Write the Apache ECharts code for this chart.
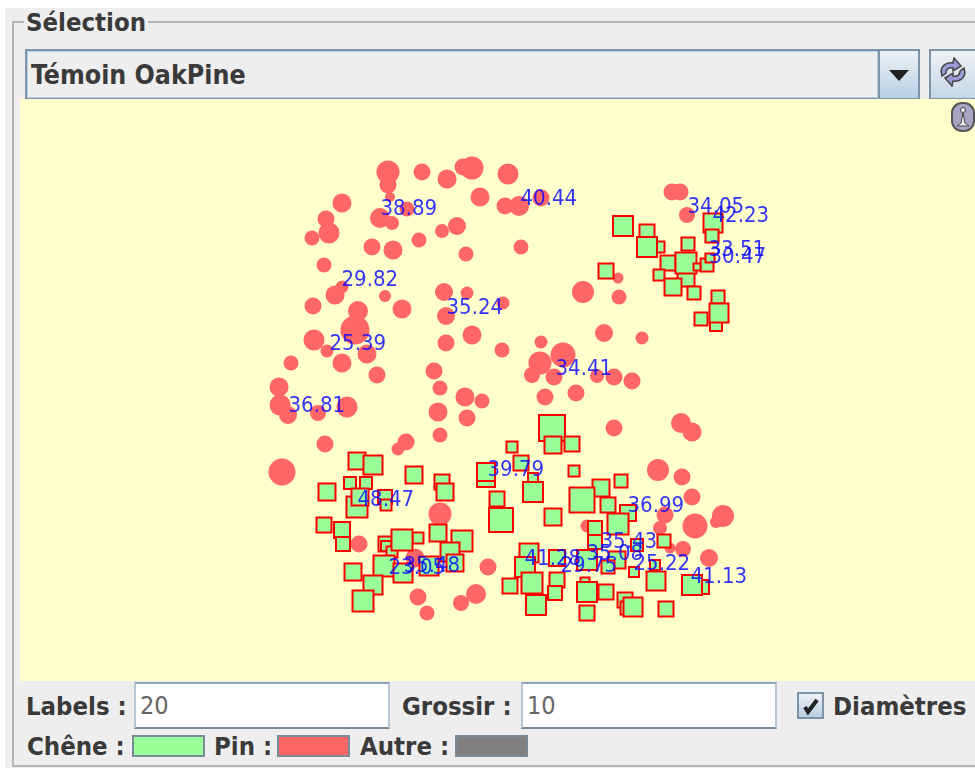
<!DOCTYPE html>
<html>
<head>
<meta charset="utf-8">
<title>Témoin OakPine</title>
<script src="https://cdn.jsdelivr.net/npm/echarts@6/dist/echarts.min.js"></script>
<style>
html, body { margin: 0; padding: 0; background: #fff; }
body { width: 975px; height: 768px; position: relative; overflow: hidden; font-family: "DejaVu Sans Condensed", "DejaVu Sans", sans-serif; color: #3a3a3a; }
.abs { position: absolute; box-sizing: border-box; }
.lbl { position: absolute; font-weight: bold; font-size: 25.5px; line-height: 28px; white-space: nowrap; }
.field { position: absolute; box-sizing: border-box; background: #fff; border: 2px solid #7a8a99; border-top-color: #8fa3b8; border-left-color: #b8c7d6; border-right-color: #b8c7d6; font-size: 25px; line-height: 44px; padding-left: 4px; color: #666; }
.swatch { position: absolute; box-sizing: border-box; border: 2px solid #7a8a99; height: 22px; width: 73px; }
#chart { position: absolute; left: 20px; top: 99px; width: 955px; height: 582px; }
</style>
</head>
<body>
<div class="abs" style="left:5px;top:8px;width:970px;height:760px;background:#eee"></div>
<div class="abs" style="left:12px;top:21px;width:975px;height:746px;border:2px solid #b5b5b5"></div>
<div class="abs" style="left:24px;top:8px;width:124px;height:28px;background:#eee"></div>
<div class="lbl" style="left:26px;top:8px">Sélection</div>

<div class="abs" style="left:25px;top:49px;width:855px;height:51px;background:#eee;border:2px solid #7d93a8;box-shadow:inset 0 0 0 1px #b8cfe5"></div>
<div class="lbl" style="left:31px;top:61px;font-size:26.5px">Témoin OakPine</div>
<div class="abs" style="left:878px;top:49px;width:42px;height:51px;background:linear-gradient(#eef1f4,#b8cfe5);border:2px solid #7d93a8"></div>
<svg class="abs" style="left:889px;top:70px" width="20" height="11"><path d="M0 0H20L10 11Z" fill="#222"/></svg>
<div class="abs" style="left:929px;top:49px;width:60px;height:51px;background:linear-gradient(#eef1f4,#c5d6e6);border:2px solid #7d93a8"></div>
<svg class="abs" style="left:938px;top:57px" width="30" height="30" viewBox="0 0 30 30">
  <path d="M3 14C4 8 9 5 15 6L16 1L23 9L15 14L15 11C11 10 8 12 8 16L4 19Z" fill="#9a9ad8" stroke="#444" stroke-width="1.5"/>
  <path d="M27 16C26 22 21 25 15 24L14 29L7 21L15 16L15 19C19 20 22 18 22 14L26 11Z" fill="#9a9ad8" stroke="#444" stroke-width="1.5"/>
</svg>

<div id="chart"></div>
<svg class="abs" style="left:951px;top:101px" width="24" height="32" viewBox="0 0 24 32">
  <rect x="1" y="2" width="22" height="28" rx="10" fill="#a9a5c5" stroke="#555" stroke-width="2"/>
  <circle cx="12" cy="9" r="2.5" fill="#eee" stroke="#444"/>
  <path d="M12 12L10 22L6 25H18L14 22Z" fill="#eee" stroke="#444"/>
</svg>

<div class="abs" style="left:20px;top:681px;width:955px;height:3px;background:#eee"></div>
<div class="lbl" style="left:26px;top:692px">Labels :</div>
<div class="field" style="left:134px;top:682px;width:256px;height:47px">20</div>
<div class="lbl" style="left:402px;top:692px">Grossir :</div>
<div class="field" style="left:521px;top:682px;width:256px;height:47px">10</div>
<div class="abs" style="left:797px;top:692px;width:27px;height:27px;background:linear-gradient(#eef1f4,#b8cfe5);border:2px solid #7d93a8"></div>
<svg class="abs" style="left:802px;top:697px" width="18" height="18"><path d="M3 10L6 15L15 3" fill="none" stroke="#222" stroke-width="4"/></svg>
<div class="lbl" style="left:833px;top:692px">Diamètres</div>
<div class="lbl" style="left:27px;top:732px">Chêne :</div>
<div class="swatch" style="left:132px;top:735px;background:#99ff99"></div>
<div class="lbl" style="left:214px;top:732px">Pin :</div>
<div class="swatch" style="left:277px;top:735px;background:#ff6666"></div>
<div class="lbl" style="left:360px;top:732px">Autre :</div>
<div class="swatch" style="left:455px;top:735px;background:#808080"></div>

<script>
// x, y, diameter
const pines = [
  [388,172,20],[388,185,14],[422,172,14],[447,179,16],[463,167,14],[472,168,20],[508,174,18],
  [342,203,16],[390,197,7],[480,197,16],[505,206,14],[380,218,17],[407,209,12],[392,223,11],
  [326,219,14],[329,233,18],[312,238,12],[457,226,15],[442,231,11],[372,247,14],[393,250,16],
  [419,240,12],[466,254,12],[324,265,12],[342,287,10],[335,295,16],[385,296,9],[444,292,15],
  [467,293,10],[519,206,17],[541,198,14],[672,192,14],[680,192,14],[687,215,13],[521,247,12],
  [618,278,8],[583,292,19],[619,297,12],[604,333,15],[642,338,10],[541,342,10],[503,303,10],
  [313,306,14],[358,311,17],[402,309,16],[355,330,26],[446,316,15],[314,340,18],[327,351,10],
  [342,363,16],[367,354,16],[446,343,14],[472,335,16],[502,350,12],[291,363,12],[377,375,14],
  [434,371,14],[440,388,12],[279,387,16],[280,405,18],[288,415,15],[318,413,13],[347,407,18],
  [465,397,16],[482,401,12],[438,412,16],[467,418,14],[440,435,12],[325,444,14],[406,442,14],
  [398,449,10],[282,472,24],[563,355,22],[540,363,20],[532,375,13],[554,377,14],[597,376,11],
  [614,377,14],[632,381,14],[545,397,14],[576,393,14],[614,428,14],[681,423,17],[692,432,16],
  [658,470,19],[682,477,14],[692,497,14],[665,515,14],[723,516,19],[716,522,9],[695,526,22],
  [660,528,11],[683,549,13],[670,548,8],[709,558,15],[587,526,10],[440,514,20],[359,544,14],
  [415,558,16],[488,567,14],[476,594,17],[461,603,13],[418,597,14],[427,613,12]
]
const oaks = [
  [623,226,20],[647,232,15],[659,247,11],[647,247,20],[688,244,13],[668,263,15],[659,275,11],
  [686,278,17],[673,287,17],[694,293,13],[686,263,21],[606,271,15],[707,265,13],[710,258,9],
  [697,267,7],[713,223,19],[712,236,13],[718,297,13],[716,325,12],[701,319,13],[719,313,19],
  [552,428,26],[553,445,17],[572,444,15],[512,447,11],[521,463,15],[486,478,18],[486,472,18],
  [533,478,10],[533,492,20],[574,471,11],[497,499,15],[501,520,24],[553,517,17],[621,481,13],
  [601,488,17],[582,500,25],[608,505,15],[628,513,16],[618,524,21],[595,528,14],[595,542,14],
  [664,541,13],[637,545,12],[529,553,19],[525,567,20],[510,586,15],[532,583,21],[536,605,20],
  [557,558,16],[557,580,15],[555,593,14],[587,560,20],[617,560,17],[608,567,13],[634,572,10],
  [655,565,10],[656,581,19],[702,587,14],[692,585,20],[585,582,9],[587,592,20],[606,592,15],
  [625,600,15],[627,608,13],[633,607,19],[666,609,15],[587,613,15],
  [357,461,17],[373,465,19],[414,475,17],[442,482,15],[445,492,17],[327,492,17],[350,483,12],
  [366,483,12],[357,507,21],[360,497,17],[385,497,14],[386,505,11],[324,525,15],[342,530,16],
  [343,544,14],[386,544,15],[386,546,10],[392,552,11],[418,538,11],[402,540,21],[438,533,17],
  [462,541,21],[450,552,19],[455,563,17],[429,566,19],[384,566,21],[403,573,19],[353,572,17],
  [373,585,19],[363,601,21]
]
// diameters printed next to the labelled trees
const labelValues = ['38.89','40.44','34.05','42.23','33.51','30.47','29.82','35.24','25.39','34.41',
  '36.81','39.79','48.47','36.99','35.43','35.08','41.28','29.75','25.22','41.13','23.05','35.48']
const labelX = [380,520,687,712,708,709,341,446,329,555,288,487,357,627,600,586,524,560,633,690,388,403]
const labelY = [209,199,207,216,250,257,280,308,344,369,406,470,500,506,542,554,559,566,564,577,568,566]

const chart = echarts.init(document.getElementById('chart'), null, { renderer: 'canvas' })

chart.setOption({
  animation: false,
  backgroundColor: '#ffffcc',
  grid: { left: 0, right: 0, top: 0, bottom: 0 },
  xAxis: { type: 'value', min: 20, max: 975, show: false },
  yAxis: { type: 'value', min: 99, max: 681, inverse: true, show: false },
  series: [
    {
      name: 'Pin',
      type: 'scatter',
      data: pines,
      symbol: 'circle',
      // the reference blobs come out a little wider than the measured core
      symbolSize: d => d[2] + 3,
      itemStyle: { color: '#ff6666', opacity: 1 }
    },
    {
      name: 'Chêne',
      type: 'scatter',
      data: oaks,
      symbol: 'rect',
      symbolSize: d => d[2],
      itemStyle: { color: '#99ff99', borderColor: '#ff0000', borderWidth: 2, opacity: 1 }
    },
    {
      name: 'Labels',
      type: 'scatter',
      data: labelValues.map((v, i) => ({ value: [labelX[i], labelY[i]], name: v })),
      symbolSize: 1,
      itemStyle: { color: 'transparent' },
      label: {
        show: true,
        position: 'right',
        distance: 0,
        formatter: p => p.name,
        color: '#0000ff',
        fontFamily: '"DejaVu Sans Condensed", "DejaVu Sans"',
        fontSize: 22
      }
    }
  ]
})

window.addEventListener('resize', () => chart.resize())
</script>
</body>
</html>
